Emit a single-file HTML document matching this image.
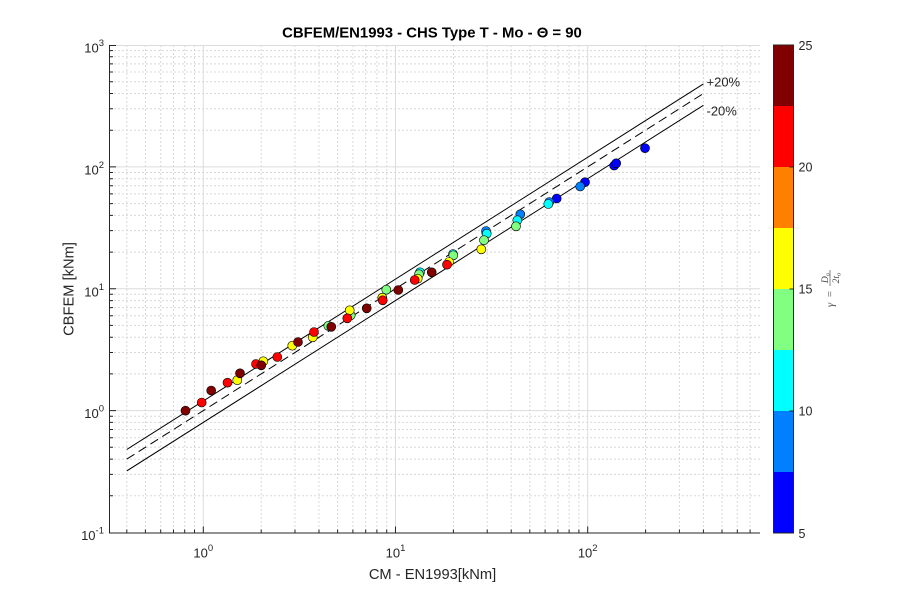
<!DOCTYPE html>
<html><head><meta charset="utf-8"><style>
html,body{margin:0;padding:0;background:#fff;}
svg{display:block;}
text{font-family:"Liberation Sans",Arial,sans-serif;fill:#262626;}
</style></head><body>
<svg width="900" height="600" viewBox="0 0 900 600" xmlns="http://www.w3.org/2000/svg">
<rect width="900" height="600" fill="#fff"/>
<!-- minor grid -->
<g stroke="#d8d8d8" stroke-width="1" stroke-dasharray="2,2" fill="none">
<path d="M126.8 45V532.5M145.4 45V532.5M160.7 45V532.5M173.5 45V532.5M184.7 45V532.5M194.5 45V532.5
M261.2 45V532.5M295 45V532.5M319 45V532.5M337.6 45V532.5M352.9 45V532.5M365.7 45V532.5M376.9 45V532.5M386.7 45V532.5
M453.4 45V532.5M487.2 45V532.5M511.2 45V532.5M529.8 45V532.5M545.1 45V532.5M557.9 45V532.5M569.1 45V532.5M578.9 45V532.5
M645.6 45V532.5M679.4 45V532.5M703.4 45V532.5M722 45V532.5M737.3 45V532.5M750.1 45V532.5"/>
<path d="M110 495.8H760M110 474.4H760M110 459.1H760M110 447.3H760M110 437.7H760M110 429.5H760M110 422.4H760M110 416.2H760
M110 373.9H760M110 352.5H760M110 337.2H760M110 325.4H760M110 315.8H760M110 307.6H760M110 300.6H760M110 294.3H760
M110 252.1H760M110 230.6H760M110 215.4H760M110 203.6H760M110 193.9H760M110 185.8H760M110 178.7H760M110 172.5H760
M110 130.2H760M110 108.7H760M110 93.5H760M110 81.7H760M110 72H760M110 63.9H760M110 56.8H760M110 50.6H760"/>
</g>
<!-- major grid -->
<g stroke="#dcdcdc" stroke-width="1" fill="none">
<path d="M203.3 45V532.5M395.5 45V532.5M587.7 45V532.5"/>
<path d="M110 45.5H760M110 166.9H760M110 288.75H760M110 410.6H760"/>
</g>
<!-- axes -->
<g stroke="#262626" stroke-width="1" fill="none">
<path d="M109.5 45V533H760"/>
<path d="M110 45.5h6M110 166.9h6M110 288.75h6M110 410.6h6"/>
<path d="M110 495.8h3M110 474.4h3M110 459.1h3M110 447.3h3M110 437.7h3M110 429.5h3M110 422.4h3M110 416.2h3
M110 373.9h3M110 352.5h3M110 337.2h3M110 325.4h3M110 315.8h3M110 307.6h3M110 300.6h3M110 294.3h3
M110 252.1h3M110 230.6h3M110 215.4h3M110 203.6h3M110 193.9h3M110 185.8h3M110 178.7h3M110 172.5h3
M110 130.2h3M110 108.7h3M110 93.5h3M110 81.7h3M110 72h3M110 63.9h3M110 56.8h3M110 50.6h3"/>
<path d="M203.3 532.5v-6M395.5 532.5v-6M587.7 532.5v-6"/>
<path d="M126.8 532.5v-3M145.4 532.5v-3M160.7 532.5v-3M173.5 532.5v-3M184.7 532.5v-3M194.5 532.5v-3
M261.2 532.5v-3M295 532.5v-3M319 532.5v-3M337.6 532.5v-3M352.9 532.5v-3M365.7 532.5v-3M376.9 532.5v-3M386.7 532.5v-3
M453.4 532.5v-3M487.2 532.5v-3M511.2 532.5v-3M529.8 532.5v-3M545.1 532.5v-3M557.9 532.5v-3M569.1 532.5v-3M578.9 532.5v-3
M645.6 532.5v-3M679.4 532.5v-3M703.4 532.5v-3M722 532.5v-3M737.3 532.5v-3M750.1 532.5v-3"/>
</g>
<!-- y tick labels -->
<g font-size="13" text-anchor="end">
<text x="104" y="52.5">10<tspan dy="-6.5" font-size="9.5">3</tspan></text>
<text x="104" y="174.4">10<tspan dy="-6.5" font-size="9.5">2</tspan></text>
<text x="104" y="296.3">10<tspan dy="-6.5" font-size="9.5">1</tspan></text>
<text x="104" y="418.1">10<tspan dy="-6.5" font-size="9.5">0</tspan></text>
<text x="104" y="540">10<tspan dy="-6.5" font-size="9.5">-1</tspan></text>
</g>
<!-- x tick labels -->
<g font-size="13" text-anchor="middle">
<text x="203.3" y="557.5">10<tspan dy="-6.5" font-size="9.5">0</tspan></text>
<text x="395.5" y="557.5">10<tspan dy="-6.5" font-size="9.5">1</tspan></text>
<text x="587.7" y="557.5">10<tspan dy="-6.5" font-size="9.5">2</tspan></text>
</g>
<!-- axis labels & title -->
<text x="432.5" y="579" font-size="14.7" text-anchor="middle">CM - EN1993[kNm]</text>
<text transform="translate(73.5,289) rotate(-90)" font-size="14.7" text-anchor="middle">CBFEM [kNm]</text>
<text x="432" y="37.5" font-size="14.9" font-weight="bold" text-anchor="middle" style="fill:#000">CBFEM/EN1993 - CHS Type T - Mo - Θ = 90</text>
<!-- reference lines -->
<g stroke="#000" stroke-width="1" fill="none">
<path d="M126.8 449.5L703.4 83.9"/>
<path d="M126.8 459.1L703.4 93.5" stroke-dasharray="9,5"/>
<path d="M126.8 470.9L703.4 105.3"/>
</g>
<text x="706.5" y="86.5" font-size="13">+20%</text>
<text x="706.5" y="115.5" font-size="13">-20%</text>
<!-- data points (ascending gamma) -->
<g stroke="#000" stroke-width="0.6">
<g fill="#0000ff">
<circle cx="556.7" cy="198.5" r="4.5"/>
<circle cx="585" cy="182.2" r="4.5"/>
<circle cx="614.2" cy="165.6" r="4.5"/>
<circle cx="616.2" cy="163.3" r="4.5"/>
<circle cx="645" cy="148.2" r="4.5"/>
</g>
<g fill="#0080ff">
<circle cx="486" cy="231" r="4.5"/>
<circle cx="520.3" cy="214.3" r="4.5"/>
<circle cx="549.3" cy="202" r="4.5"/>
<circle cx="580.2" cy="186.5" r="4.5"/>
</g>
<g fill="#00ffff">
<circle cx="420" cy="272.3" r="4.5"/>
<circle cx="453" cy="254" r="4.5"/>
<circle cx="486.7" cy="233.7" r="4.5"/>
<circle cx="517.3" cy="220.3" r="4.5"/>
<circle cx="548.3" cy="204" r="4.5"/>
</g>
<g fill="#80ff80">
<circle cx="328.3" cy="325.8" r="4.5"/>
<circle cx="350.7" cy="315.3" r="4.5"/>
<circle cx="386.3" cy="289.7" r="4.5"/>
<circle cx="419" cy="274.3" r="4.5"/>
<circle cx="453.3" cy="255.3" r="4.5"/>
<circle cx="484" cy="240.2" r="4.5"/>
<circle cx="516" cy="226.3" r="4.5"/>
</g>
<g fill="#ffff00">
<circle cx="237.3" cy="380.2" r="4.5"/>
<circle cx="263.3" cy="361.3" r="4.5"/>
<circle cx="292.3" cy="345.7" r="4.5"/>
<circle cx="312.7" cy="337.3" r="4.5"/>
<circle cx="349.7" cy="310.3" r="4.5"/>
<circle cx="382.3" cy="297.7" r="4.5"/>
<circle cx="417.7" cy="278.7" r="4.5"/>
<circle cx="449" cy="262" r="4.5"/>
<circle cx="481.3" cy="249.3" r="4.5"/>
</g>
<g fill="#ff0000">
<circle cx="201.7" cy="402.5" r="4.5"/>
<circle cx="227.5" cy="382.7" r="4.5"/>
<circle cx="256" cy="364" r="4.5"/>
<circle cx="277.3" cy="357" r="4.5"/>
<circle cx="314" cy="332" r="4.5"/>
<circle cx="347.3" cy="318.3" r="4.5"/>
<circle cx="382.7" cy="300.3" r="4.5"/>
<circle cx="414.7" cy="280" r="4.5"/>
<circle cx="447" cy="264.7" r="4.5"/>
</g>
<g fill="#800000">
<circle cx="185.5" cy="410.7" r="4.5"/>
<circle cx="211.2" cy="390.5" r="4.5"/>
<circle cx="240" cy="373.3" r="4.5"/>
<circle cx="261.3" cy="365.3" r="4.5"/>
<circle cx="298" cy="342" r="4.5"/>
<circle cx="331.3" cy="326.8" r="4.5"/>
<circle cx="366.7" cy="308.3" r="4.5"/>
<circle cx="398.3" cy="290" r="4.5"/>
<circle cx="431.7" cy="272.3" r="4.5"/>
</g>
</g>
<!-- colorbar -->
<g stroke="none">
<rect x="773.5" y="45" width="20" height="61" fill="#800000"/>
<rect x="773.5" y="106" width="20" height="61" fill="#ff0000"/>
<rect x="773.5" y="167" width="20" height="61" fill="#ff8000"/>
<rect x="773.5" y="228" width="20" height="61" fill="#ffff00"/>
<rect x="773.5" y="289" width="20" height="61" fill="#80ff80"/>
<rect x="773.5" y="350" width="20" height="61" fill="#00ffff"/>
<rect x="773.5" y="411" width="20" height="61" fill="#0080ff"/>
<rect x="773.5" y="472" width="20" height="61" fill="#0000ff"/>
</g>
<rect x="773.5" y="45" width="20" height="488" fill="none" stroke="#262626" stroke-width="1"/>
<g stroke="#262626" stroke-width="1">
<path d="M793.5 167h-4M793.5 289h-4M793.5 411h-4"/>
</g>
<g font-size="12.5">
<text x="798.5" y="50">25</text>
<text x="798.5" y="171.5">20</text>
<text x="798.5" y="293.5">15</text>
<text x="798.5" y="415.5">10</text>
<text x="798.5" y="538">5</text>
</g>
<!-- colorbar label: gamma = D0 / 2t0 -->
<g transform="translate(830,289) rotate(-90)">
<text x="-16" y="3.5" font-size="11" font-style="italic" text-anchor="middle" style="font-family:'Liberation Serif',serif;fill:#444">γ</text>
<text x="-5" y="3.5" font-size="11" text-anchor="middle" style="font-family:'Liberation Serif',serif;fill:#444">=</text>
<line x1="3" y1="0" x2="19" y2="0" stroke="#555" stroke-width="0.7"/>
<text x="11" y="-2" font-size="9.5" font-style="italic" text-anchor="middle" style="font-family:'Liberation Serif',serif;fill:#444">D<tspan font-size="6.5" dy="1.5">o</tspan></text>
<text x="11" y="9" font-size="9.5" font-style="italic" text-anchor="middle" style="font-family:'Liberation Serif',serif;fill:#444">2t<tspan font-size="6.5" dy="1.5">o</tspan></text>
</g>
</svg>
</body></html>
